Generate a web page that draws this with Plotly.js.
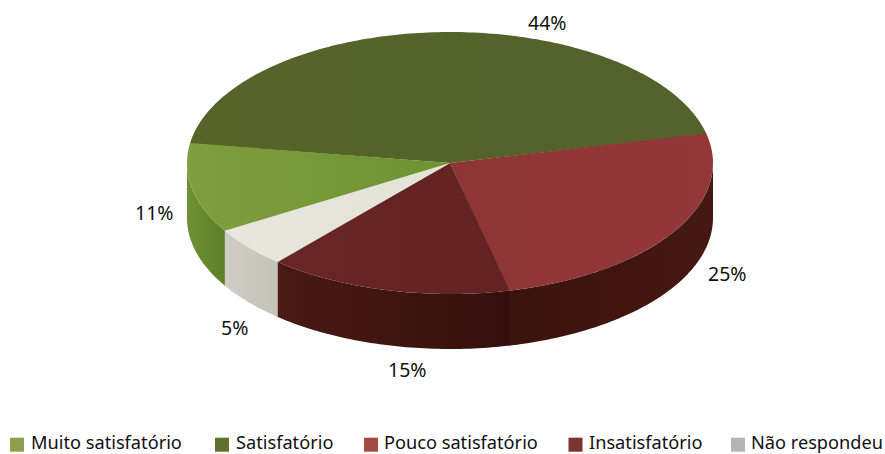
<!DOCTYPE html>
<html><head><meta charset="utf-8">
<script src="https://cdn.plot.ly/plotly-3.0.1.min.js"></script>
<style>html,body{margin:0;padding:0;background:#fff}#c{width:885px;height:454px}</style>
</head><body><div id="c"></div>
<script>
// Data
const categories = ['Muito satisfatório','Satisfatório','Pouco satisfatório','Insatisfatório','Não respondeu'];
const values = [11,44,25,15,5];
const valueLabels = ['11%','44%','25%','15%','5%'];
// Styles
const legendColors = ['#8ba04c','#60702f','#a44a45','#7b3530','#b5b5b5'];
const topGrad = [['#7f9e3d','#6f9232'],['#56642a','#52622a'],['#8e3535','#933838'],['#692525','#622322'],['#e8e7dd','#e4e3d8']];
const sideGrad = [['#6f9034','#5f7f28'],['#56642a','#56642a'],['#3a120e','#451814'],['#4a1a14','#33100c'],['#cfcec4','#c4c3b8']];
// Layout
const cx=450, cy=163, rx=263, ry=131, depth=55, seam=0.3;
const firstAngle=171.2; // where "Satisfatório" begins (deg, clockwise from there)
const labelX=[154,547,727,407,234], labelY=[212,22,273,369,327];
const legendSwatchX=[17,222,371,575.5,738], legendTextX=[30.5,235.5,384,588.5,751], swatchY=444.7, legendY=441.7;

function ex(a){return cx+rx*Math.cos(a*Math.PI/180);}
function ey(a,d){return cy+(d||0)-ry*Math.sin(a*Math.PI/180);}
function arc(a0,a1,d){const n=Math.max(2,Math.ceil(Math.abs(a1-a0)));const xs=[],ys=[];
  for(let i=0;i<=n;i++){const a=a0+(a1-a0)*i/n;xs.push(ex(a));ys.push(ey(a,d));}return [xs,ys];}
function grad(c){return {type:'horizontal',colorscale:[[0,c[0]],[1,c[1]]]};}

const order=[1,2,3,4,0];
const total=values.reduce((p,q)=>p+q,0);
let ang=firstAngle; const sect={};
order.forEach(i=>{const sweep=values[i]/total*360;sect[i]=[ang,ang-sweep];ang-=sweep;});

const traces=[];
// side walls: only the part facing the viewer (angles from 0 down to -180)
order.forEach(i=>{
  const [a0,a1]=sect[i];
  const s=Math.min(a0+seam,0), e=Math.max(a1,-180);
  if(s<=e) return;
  const [tx,ty]=arc(s,e,0),[bx,by]=arc(e,s,depth);
  traces.push({x:tx.concat(bx),y:ty.concat(by),mode:'none',fill:'toself',fillgradient:grad(sideGrad[i]),
    hoverinfo:'skip',showlegend:false,type:'scatter'});
});
// top faces
order.forEach(i=>{
  const [a0,a1]=sect[i];const [tx,ty]=arc(a0+seam,a1,0);
  tx.unshift(cx);ty.unshift(cy);tx.push(cx);ty.push(cy);
  traces.push({x:tx,y:ty,mode:'none',fill:'toself',fillgradient:grad(topGrad[i]),
    hoverinfo:'skip',showlegend:false,type:'scatter'});
});
// legend swatches
traces.push({x:legendSwatchX,y:categories.map(()=>swatchY),mode:'markers',type:'scatter',
  marker:{symbol:'square',size:14,color:legendColors,line:{width:0}},hoverinfo:'skip',showlegend:false});

const family='"Noto Sans", sans-serif';
const labelFont={family:family,size:19.5,color:'#111'};
const legendFont={family:family,size:18.2,color:'#111'};
const annotations=[];
valueLabels.forEach((t,i)=>annotations.push({text:t,x:labelX[i],y:labelY[i],xref:'x',yref:'y',showarrow:false,font:labelFont,xanchor:'center',yanchor:'middle'}));
categories.forEach((t,i)=>annotations.push({text:t,x:legendTextX[i],y:legendY,xref:'x',yref:'y',showarrow:false,font:legendFont,xanchor:'left',yanchor:'middle',xshift:-2}));

Plotly.newPlot('c',traces,{
  width:885,height:454,margin:{l:0,r:0,t:0,b:0},paper_bgcolor:'#fff',plot_bgcolor:'#fff',showlegend:false,
  xaxis:{range:[0,885],visible:false,fixedrange:true},
  yaxis:{range:[454,0],visible:false,fixedrange:true},
  annotations:annotations
},{staticPlot:true,displayModeBar:false});
</script></body></html>
